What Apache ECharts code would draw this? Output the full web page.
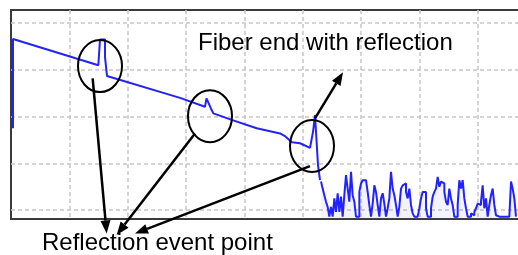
<!DOCTYPE html>
<html>
<head>
<meta charset="utf-8">
<script src="https://cdn.jsdelivr.net/npm/echarts@6/dist/echarts.min.js"></script>
<style>
  html, body { margin: 0; padding: 0; background: #fff; }
  #main { width: 518px; height: 255px; }
</style>
</head>
<body>
<div id="main"></div>
<script>
// OTDR trace: x = sample index (35 samples per division), y = level (10 per division)
var traceX = [1.2, 1.2, 52.4, 53.4, 56.4, 56.4, 57.6, 57.6, 101.4, 116.4, 117.3, 118.5, 120.4, 121.4,
              132.4, 147.4, 161.4, 164.4, 168.6, 173.4, 179.4, 181.2, 182.4, 183.6, 184.2, 185.4];
var traceY = [17.5, 36.6, 31.0, 36.5, 36.5, 32.7, 32.7, 28.7, 24.0, 22.1, 23.9, 23.9, 21.4, 20.7,
              19.3, 17.5, 16.4, 15.8, 14.5, 14.3, 13.3, 16.7, 20.3, 20.3, 9.6, 6.4];

// noise after the fiber end, one value per sample starting at noiseStart
var noiseStart = 186;
var noiseY = [6.1, 4.6, 3.2, 1.8, 0.7, -1.4, 0.7, -1.4, 2.5, -0.4, 3.6, -0.4, 2.9, -1.4, 3.2, 7.5,
              4.6, 1.8, 8.2, 3.2, 1.8, -1.4, -1.4, 3.9, 5.7, 6.4, 6.4, 6.1, 3.9, 1.1, -1.4, 1.4,
              5.3, 3.9, 1.1, -1.4, 2.5, 3.6, 1.4, -1.4, 0.4, 2.5, 8.2, 4.6, 3.2, 1.1, -1.4, 0.7,
              4.6, 5.3, 5.7, 3.9, 2.5, 4.6, 1.1, -0.7, -1.4,
              -1.4, -1.4, 0.4, 2.5, 3.9, 3.9, 0.4, -1.4, -1.4, 0.4, 2.9, 3.9, 4.6, 7.1, 5.0, 6.1,
              5.7, 3.9, 1.8, 1.1, 4.6, 2.5, 1.1, -1.4, -1.4, 1.1, 6.4, 4.6, 6.4, 2.5, 0.4, -1.4,
              -1.4, -0.7, -1.1, -0.4, 0.4, 1.4, 1.1, 1.8, 5.3, 0.4, 2.5, -1.4, 1.1, 3.2, 4.6, 1.1,
              -1.1, -1.4, -1.4, -1.4, -1.4, -1.4, -1.4, -1.4, -1.4, 6.1, 4.6, 2.5, -1.4];

// reflection events (circled) and arrows, in chart coordinates
var eventPoints = [[53.4, 30.8], [119.4, 20.1], [180.6, 13.7]];
var eventArrows = [
  [[49.0, 28.2], [57.4, -5.0]],
  [[110.4, 16.4], [63.4, -5.3]],
  [[179.4, 9.4], [74.4, -5.0]]
];
var endArrow = [[182.4, 19.6], [199.2, 29.5]];

var chart = echarts.init(document.getElementById('main'));

var traceData = traceX.map(function (x, i) { return [x, traceY[i]]; });
var noiseData = noiseY.map(function (v, i) { return [noiseStart + i, v]; });

var dashed = { show: true, showMinLine: false, showMaxLine: false,
  lineStyle: { color: '#c6c6c6', width: 1.5, type: [4, 3] } };

chart.setOption({
  animation: false,
  backgroundColor: '#fff',
  grid: { left: 11, right: -18, top: 10, bottom: 36, show: true, outerBoundsMode: 'none',
          borderColor: '#3a3a3a', borderWidth: 2, backgroundColor: '#fff' },
  xAxis: {
    type: 'value', min: 0, max: 315, interval: 35,
    axisLine: { show: false }, axisTick: { show: false }, axisLabel: { show: false },
    splitLine: dashed
  },
  yAxis: {
    type: 'value', min: -1.9, max: 42.8,
    axisLine: { show: false }, axisTick: { show: false }, axisLabel: { show: false },
    splitLine: dashed
  },
  series: [
    {
      type: 'line', data: traceData, showSymbol: false, z: 3,
      lineStyle: { color: '#2222ff', width: 2 }
    },
    {
      type: 'line', data: noiseData, showSymbol: false, step: 'end', z: 3,
      lineStyle: { color: '#2222ff', width: 2 },
      areaStyle: { color: 'rgba(120,120,255,0.12)', origin: 'start' }
    }
  ]
});

function px(p) { return chart.convertToPixel({ gridIndex: 0 }, p); }

function arrow(from, to) {
  var p0 = px(from), p1 = px(to);
  var dx = p1[0] - p0[0], dy = p1[1] - p0[1];
  var len = Math.sqrt(dx * dx + dy * dy);
  var ux = dx / len, uy = dy / len;
  var head = 13, half = 5;
  var bx = p1[0] - ux * head, by = p1[1] - uy * head;
  return [
    { type: 'line', z: 100, shape: { x1: p0[0], y1: p0[1], x2: bx, y2: by },
      style: { stroke: '#000', lineWidth: 2.5 } },
    { type: 'polygon', z: 100,
      shape: { points: [[p1[0], p1[1]], [bx - uy * half, by + ux * half], [bx + uy * half, by - ux * half]] },
      style: { fill: '#000' } }
  ];
}

var graphics = [];
eventPoints.forEach(function (e) {
  var c = px(e);
  graphics.push({ type: 'ellipse', z: 100, shape: { cx: c[0], cy: c[1], rx: 22, ry: 26 },
    style: { fill: 'none', stroke: '#000', lineWidth: 2 } });
});
eventArrows.forEach(function (a) { graphics = graphics.concat(arrow(a[0], a[1])); });
graphics = graphics.concat(arrow(endArrow[0], endArrow[1]));

graphics.push({ type: 'text', z: 100, x: 198, y: 31,
  style: { text: 'Fiber end with reflection', fill: '#000',
           font: '24px "Liberation Sans", Arial, sans-serif', verticalAlign: 'top' } });
graphics.push({ type: 'text', z: 100, x: 42, y: 231,
  style: { text: 'Reflection event point', fill: '#000',
           font: '24px "Liberation Sans", Arial, sans-serif', verticalAlign: 'top' } });

chart.setOption({ graphic: graphics });

window.addEventListener('resize', function () { chart.resize(); });
</script>
</body>
</html>
